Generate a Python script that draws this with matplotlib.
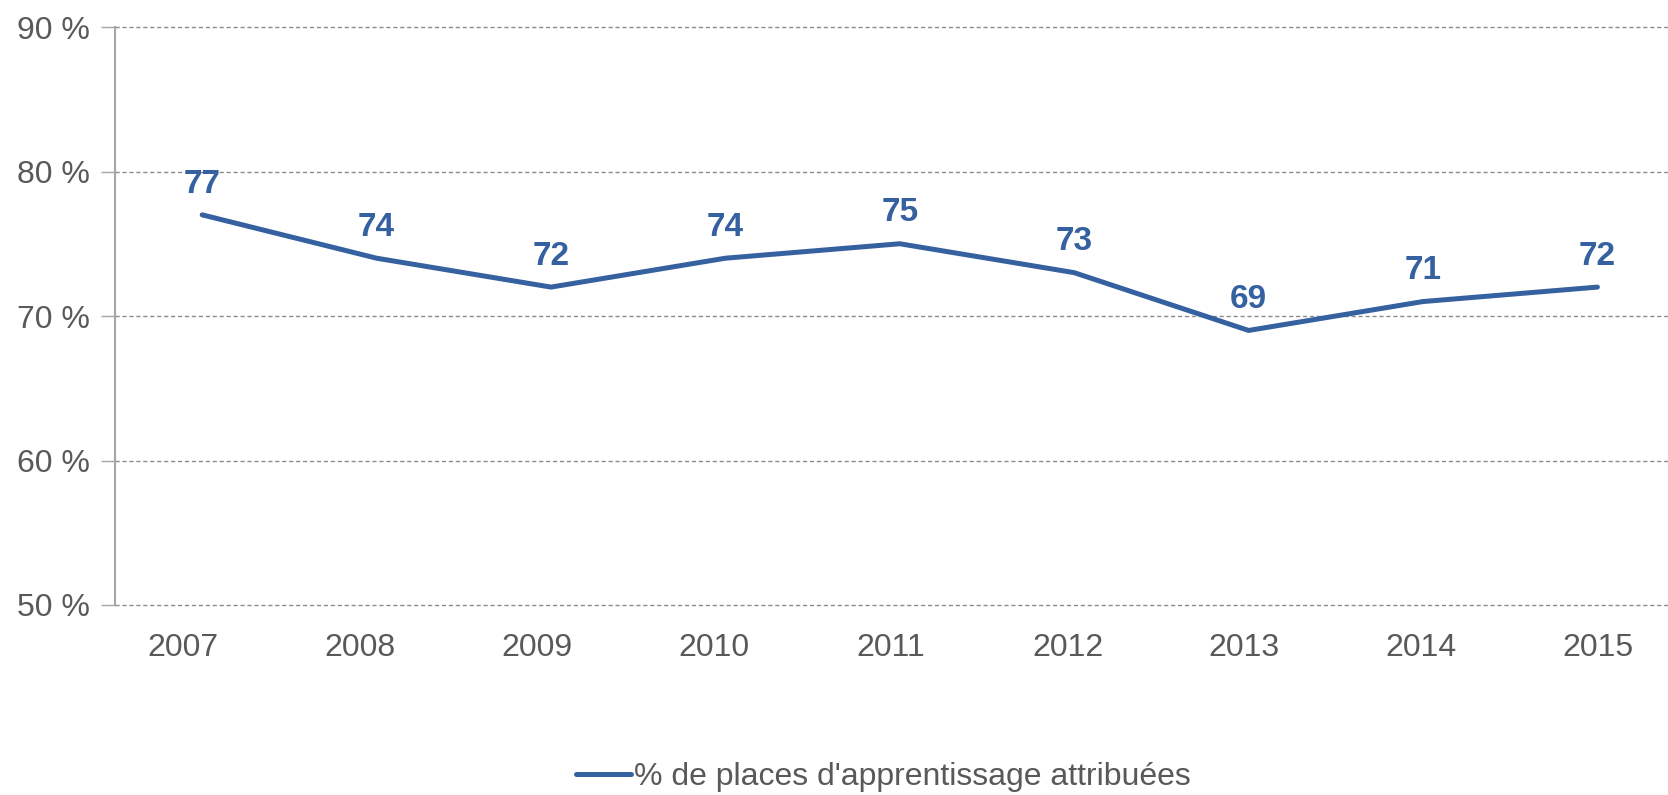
import matplotlib.pyplot as plt

years = ['2007', '2008', '2009', '2010', '2011', '2012', '2013', '2014', '2015']
values = [77, 74, 72, 74, 75, 73, 69, 71, 72]
yticks = [50, 60, 70, 80, 90]
series_name = "% de places d'apprentissage attribuées"

blue = '#3561a0'
grey_text = '#595959'

plt.rcParams['font.family'] = ['Liberation Sans', 'DejaVu Sans']

fig = plt.figure(figsize=(16.68, 7.95), dpi=100)
rect = [115 / 1668, 1 - 605 / 795, 1 - 115 / 1668, (605 - 27) / 795]
ax = fig.add_axes(rect)

x = list(range(len(years)))
line, = ax.plot(x, values, color=blue, linewidth=3.6, solid_capstyle='round',
                label=series_name)

for xi, v in zip(x, values):
    ax.annotate(str(v), (xi, v), xytext=(0, 11), textcoords='offset points',
                ha='center', va='bottom', fontsize=24, fontweight='bold', color=blue)

ax.set_ylim(50, 90)
ax.set_yticks(yticks)
ax.set_yticklabels([f'{t} %' for t in yticks])
ax.set_xlim(-0.5, (1668 - 115) / 174.4 - 0.5)
ax.set_xticks([])

# category labels sit on a slightly wider spacing than the points
cat = fig.add_axes(rect, frameon=False)
cat.set_xlim((115 - 183) / 176.9, (1668 - 183) / 176.9)
cat.set_xticks(x)
cat.set_xticklabels(years)
cat.set_yticks([])
cat.tick_params(axis='x', length=0, labelsize=23, labelcolor=grey_text, pad=20)

ax.grid(axis='y', linestyle=(0, (3, 2)), color='#8c8c8c', linewidth=1)
for gl in ax.get_ygridlines():
    gl.set_clip_on(False)
ax.set_axisbelow(True)
for s in ['top', 'right', 'bottom']:
    ax.spines[s].set_visible(False)
ax.spines['left'].set_color('#a6a6a6')
ax.spines['left'].set_linewidth(1.5)

ax.tick_params(axis='y', length=10, color='#a6a6a6', width=1, labelsize=23,
               labelcolor=grey_text, pad=8)

fig.legend(handles=[line], loc='center', bbox_to_anchor=(883 / 1668, 1 - 777 / 795),
           frameon=False, fontsize=23, handlelength=1.72, handletextpad=0.1,
           labelcolor=grey_text)

fig.savefig('out.png', dpi=100)
